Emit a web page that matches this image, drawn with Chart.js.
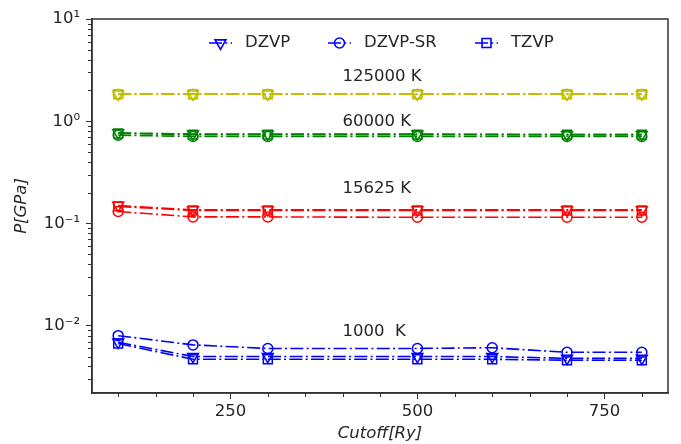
<!DOCTYPE html>
<html>
<head>
<meta charset="utf-8">
<script src="https://cdn.jsdelivr.net/npm/chart.js@4.4.1/dist/chart.umd.min.js"></script>
<style>
  html, body { margin: 0; padding: 0; background: #fff; }
  #wrap { width: 681px; height: 444px; }
</style>
</head>
<body>
<div id="wrap"><canvas id="pressureChart" width="681" height="444"></canvas></div>
<script>
// cutoff grid (Ry); the 1000 K runs have an extra 600 Ry point
const cutoffs = [100, 200, 300, 500, 700, 800];
const cutoffsCold = [100, 200, 300, 500, 600, 700, 800];

const basisSets = ["DZVP", "DZVP-SR", "TZVP"];
const basisMarkers = ["triangle", "circle", "rect"];

const temperatures = ["1000  K", "15625 K", "60000 K", "125000 K"];
const tempColors = ["#0000ff", "#ff0000", "#008000", "#bfbf00"];
// temperature labels are placed in data space (cutoff, pressure)
const labelCutoff = 400;
const labelPressure = [0.008, 0.2, 0.9, 2.5];

// pressures in GPa
const p1000_DZVP   = [0.0069, 0.0050, 0.0050, 0.0050, 0.0050, 0.0048, 0.0048];
const p1000_DZVPSR = [0.0080, 0.0065, 0.0060, 0.0060, 0.0061, 0.0055, 0.0055];
const p1000_TZVP   = [0.0067, 0.0047, 0.0047, 0.0047, 0.0047, 0.0046, 0.0046];

const p15625_DZVP   = [0.150, 0.136, 0.136, 0.136, 0.136, 0.136];
const p15625_DZVPSR = [0.131, 0.116, 0.116, 0.115, 0.115, 0.115];
const p15625_TZVP   = [0.147, 0.134, 0.134, 0.134, 0.134, 0.134];

const p60000_DZVP   = [0.77, 0.75, 0.75, 0.75, 0.74, 0.74];
const p60000_DZVPSR = [0.73, 0.71, 0.71, 0.71, 0.71, 0.71];
const p60000_TZVP   = [0.76, 0.74, 0.74, 0.74, 0.74, 0.74];

const p125000_DZVP   = [1.84, 1.84, 1.84, 1.84, 1.84, 1.84];
const p125000_DZVPSR = [1.84, 1.84, 1.84, 1.84, 1.84, 1.84];
const p125000_TZVP   = [1.84, 1.84, 1.84, 1.84, 1.84, 1.84];

const seriesByTemp = [
  [p1000_DZVP, p1000_DZVPSR, p1000_TZVP],
  [p15625_DZVP, p15625_DZVPSR, p15625_TZVP],
  [p60000_DZVP, p60000_DZVPSR, p60000_TZVP],
  [p125000_DZVP, p125000_DZVPSR, p125000_TZVP]
];

const xMajor = [250, 500, 750];
const yMajor = [0.01, 0.1, 1, 10];
const yTickText = { 0.01: "10\u207B\u00B2", 0.1: "10\u207B\u00B9", 1: "10\u2070", 10: "10\u00B9" };

const TEXT = "#262626";
const SPINE = "#333333";
const FONT = "DejaVu Sans";
const DASHDOT = [13, 3.3, 2, 3.3];

function markerOpts(b) {
  return {
    pointStyle: basisMarkers[b],
    radius: b === 1 ? 5 : 6.3,
    rotation: b === 0 ? 180 : 0,
    borderWidth: 1.5
  };
}

const datasets = [];
seriesByTemp.forEach((group, t) => {
  const xs = t === 0 ? cutoffsCold : cutoffs;
  group.forEach((vals, b) => {
    const m = markerOpts(b);
    datasets.push({
      label: basisSets[b] + " " + temperatures[t],
      data: vals.map((v, i) => ({ x: xs[i], y: v })),
      borderColor: tempColors[t],
      borderWidth: 1.6,
      borderDash: DASHDOT,
      pointStyle: m.pointStyle,
      pointRadius: m.radius,
      pointRotation: m.rotation,
      pointBorderWidth: m.borderWidth,
      pointBorderColor: tempColors[t],
      pointBackgroundColor: "rgba(0,0,0,0)",
      fill: false,
      tension: 0
    });
  });
});

// frame, minor ticks, legend and temperature labels
const decorPlugin = {
  id: "decor",
  afterDraw(chart) {
    const { ctx, chartArea, scales } = chart;
    const xs = scales.x, ys = scales.y;
    ctx.save();

    // minor ticks
    ctx.strokeStyle = SPINE;
    ctx.lineWidth = 1;
    ctx.beginPath();
    for (let v = 100; v <= 800; v += 50) {
      if (xMajor.includes(v)) continue;
      const px = Math.round(xs.getPixelForValue(v)) + 0.5;
      ctx.moveTo(px, chartArea.bottom);
      ctx.lineTo(px, chartArea.bottom + 4);
    }
    for (let d = -3; d <= 0; d++) {
      for (let k = 2; k <= 9; k++) {
        const v = k * Math.pow(10, d);
        if (v < ys.min || v > ys.max) continue;
        const py = Math.round(ys.getPixelForValue(v)) + 0.5;
        ctx.moveTo(chartArea.left, py);
        ctx.lineTo(chartArea.left - 4, py);
      }
    }
    ctx.stroke();

    // box
    ctx.lineWidth = 1.5;
    ctx.strokeRect(chartArea.left, chartArea.top,
      chartArea.right - chartArea.left, chartArea.bottom - chartArea.top);

    // temperature labels
    ctx.fillStyle = TEXT;
    ctx.font = "16.5px '" + FONT + "'";
    ctx.textAlign = "left";
    ctx.textBaseline = "alphabetic";
    temperatures.forEach((t, i) => {
      ctx.fillText(t, xs.getPixelForValue(labelCutoff), ys.getPixelForValue(labelPressure[i]));
    });

    // legend (blue handles, like the 1000 K series)
    const legY = chartArea.top + 24;
    const handleX = [chartArea.left + 117, chartArea.left + 236, chartArea.left + 383];
    basisSets.forEach((name, b) => {
      const x0 = handleX[b];
      ctx.strokeStyle = tempColors[0];
      ctx.lineWidth = 1.6;
      ctx.setLineDash(DASHDOT);
      ctx.beginPath();
      ctx.moveTo(x0, legY);
      ctx.lineTo(x0 + 23, legY);
      ctx.stroke();
      ctx.setLineDash([]);
      ctx.fillStyle = "rgba(0,0,0,0)";
      Chart.helpers.drawPoint(ctx, markerOpts(b), x0 + 11.5, legY);
      ctx.fillStyle = TEXT;
      ctx.textBaseline = "middle";
      ctx.fillText(name, x0 + 36, legY);
    });

    ctx.restore();
  }
};

new Chart(document.getElementById("pressureChart"), {
  type: "line",
  data: { datasets },
  options: {
    responsive: false,
    animation: false,
    events: [],
    devicePixelRatio: 1,
    layout: { padding: { top: 19, right: 13, bottom: 0, left: 0 } },
    plugins: { legend: { display: false }, tooltip: { enabled: false } },
    scales: {
      x: {
        type: "linear",
        min: 65,
        max: 835,
        afterBuildTicks: (s) => { s.ticks = xMajor.map(v => ({ value: v })); },
        afterFit: (s) => { s.height = 51; },
        grid: { drawOnChartArea: false, drawTicks: true, tickLength: 6, tickColor: SPINE, tickWidth: 1 },
        border: { display: true, color: SPINE, width: 1.5 },
        ticks: { color: TEXT, padding: 3, maxRotation: 0, font: { family: FONT, size: 16.5 } },
        title: {
          display: true,
          text: "Cutoff[Ry]",
          color: TEXT,
          padding: { top: 0, bottom: 0 },
          font: { family: FONT, size: 16.5, style: "italic" }
        }
      },
      y: {
        type: "logarithmic",
        min: 0.0022,
        max: 10,
        afterBuildTicks: (s) => { s.ticks = yMajor.map(v => ({ value: v })); },
        afterFit: (s) => { s.width = 92; },
        grid: { drawOnChartArea: false, drawTicks: true, tickLength: 6, tickColor: SPINE, tickWidth: 1 },
        border: { display: true, color: SPINE, width: 1.5 },
        ticks: {
          color: TEXT,
          padding: 6,
          font: { family: FONT, size: 16.5 },
          callback: (v) => yTickText[v] || ""
        },
        title: {
          display: true,
          text: "P[GPa]",
          color: TEXT,
          padding: { top: 12, bottom: 0 },
          font: { family: FONT, size: 16.5, style: "italic" }
        }
      }
    }
  },
  plugins: [decorPlugin]
});
</script>
</body>
</html>
